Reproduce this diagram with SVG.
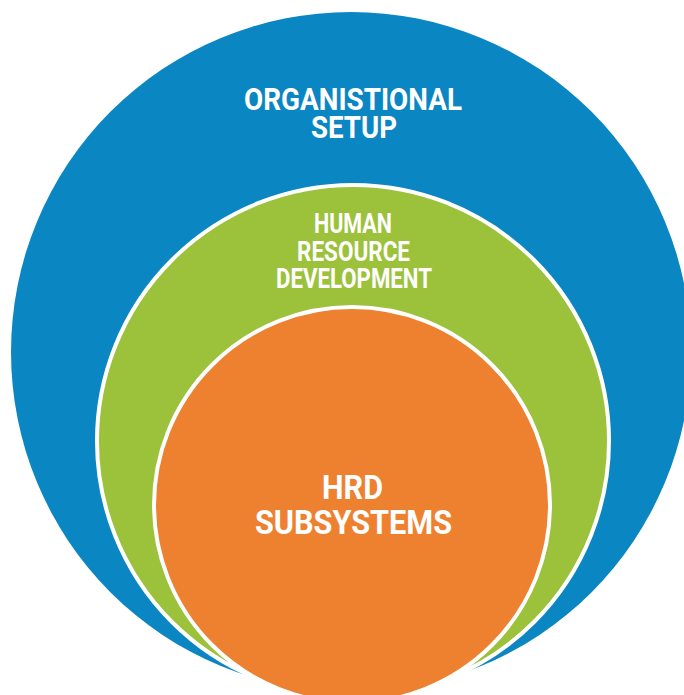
<svg xmlns="http://www.w3.org/2000/svg" width="684" height="695" viewBox="0 0 684 695">
  <style>
    .lbl { font-family: "Roboto", "Liberation Sans", sans-serif; font-weight: bold; fill: #ffffff; text-anchor: middle; }
    .ring { stroke: #ffffff; stroke-width: 4; }
  </style>
  <rect x="0" y="0" width="684" height="695" fill="#ffffff"/>
  <g id="node-organisational-setup">
    <circle cx="351" cy="352" r="340" fill="#0A86C2"/>
    <text class="lbl" x="353" y="110" font-size="32" textLength="218" lengthAdjust="spacingAndGlyphs">ORGANISTIONAL</text>
    <text class="lbl" x="354" y="138" font-size="32" textLength="86" lengthAdjust="spacingAndGlyphs">SETUP</text>
  </g>
  <g id="node-human-resource-development">
    <circle class="ring" cx="353" cy="441" r="256" fill="#9CC13B"/>
    <text class="lbl" x="353" y="233" font-size="27" textLength="78" lengthAdjust="spacingAndGlyphs">HUMAN</text>
    <text class="lbl" x="353.5" y="261" font-size="27" textLength="113" lengthAdjust="spacingAndGlyphs">RESOURCE</text>
    <text class="lbl" x="354" y="288" font-size="27" textLength="156" lengthAdjust="spacingAndGlyphs">DEVELOPMENT</text>
  </g>
  <g id="node-hrd-subsystems">
    <circle class="ring" cx="352" cy="505" r="198" fill="#EE8130"/>
    <text class="lbl" x="352.5" y="499" font-size="34" textLength="61" lengthAdjust="spacingAndGlyphs">HRD</text>
    <text class="lbl" x="353.5" y="534" font-size="34" textLength="197" lengthAdjust="spacingAndGlyphs">SUBSYSTEMS</text>
  </g>
  <g id="connectors"/>
</svg>
